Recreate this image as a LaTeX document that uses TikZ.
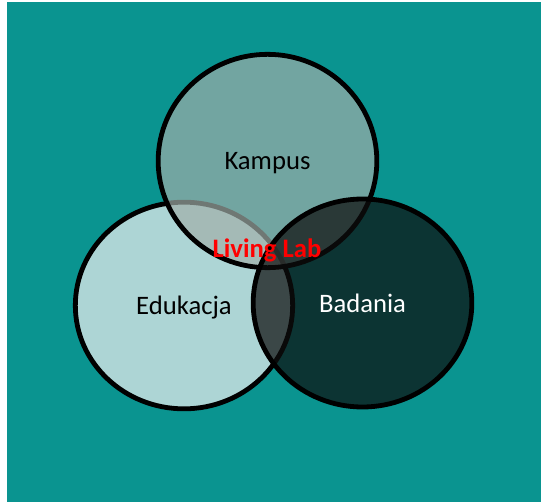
\documentclass[tikz,border=0pt]{standalone}
\usepackage{fontspec}
\setmainfont{Carlito}
\usetikzlibrary{shapes.geometric}

\definecolor{tealbg}{RGB}{10,148,144}
\definecolor{edufill}{RGB}{173,213,213}
\definecolor{kampfill}{RGB}{161,174,169}
\definecolor{badfill}{RGB}{13,13,13}

\begin{document}
\begin{tikzpicture}[x=0.75pt,y=-0.75pt,
    circ/.style={draw,ellipse,line width=3.6pt,inner sep=0pt,text depth=0pt,font=\fontsize{20}{24}\selectfont},
]
    \useasboundingbox (0,0) rectangle (541,502);
    \fill [tealbg] (7,2) rectangle (541,502);

    \node [circ,fill=edufill,minimum width=163pt,minimum height=155pt] (edu) at (184,305.5) {Edukacja};
    \node [circ,fill=kampfill,fill opacity=0.69,text opacity=1,minimum width=164pt,minimum height=160pt] (kamp) at (267.5,161) {Kampus};
    \node [circ,fill=badfill,fill opacity=0.71,text opacity=1,text=white,minimum width=164pt,minimum height=156pt] (bad) at (362.5,303) {Badania};

    \node [text=red,font=\fontsize{20}{24}\selectfont\bfseries] (lab) at (267,250) {Living Lab};
\end{tikzpicture}
\end{document}
